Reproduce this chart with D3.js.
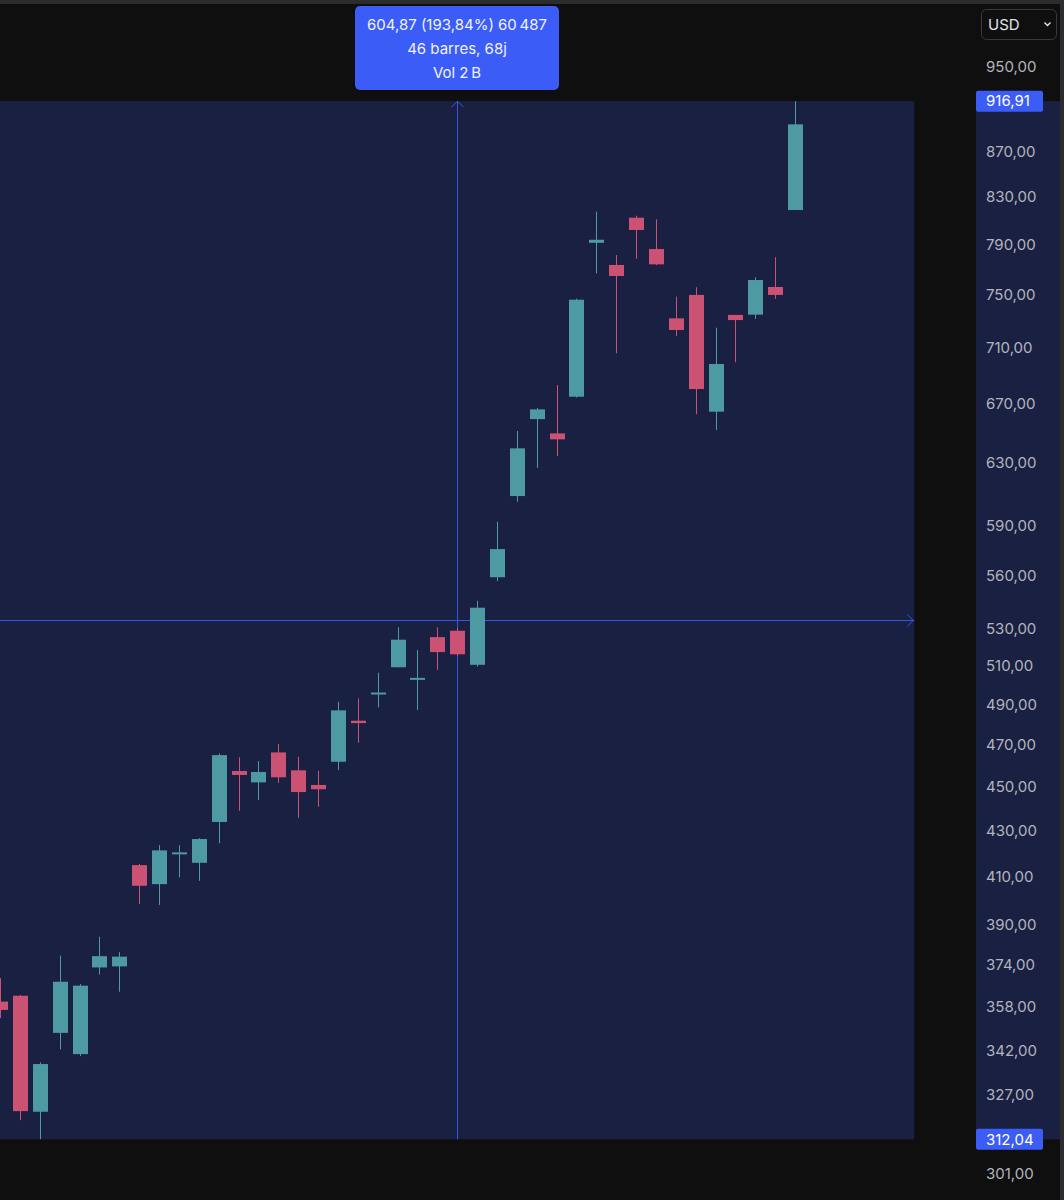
<!DOCTYPE html>
<html><head><meta charset="utf-8">
<script src="https://cdn.jsdelivr.net/npm/d3@7/dist/d3.min.js"></script>
<style>html,body{margin:0;padding:0;background:#0f0f0f;overflow:hidden}svg{display:block}</style>
</head><body>
<svg id="c" width="1064" height="1200"></svg>
<script>
// ---- data ----
const bars  = [0,1,2,3,4,5,6,7,8,9,10,11,12,13,14,15,16,17,18,19,20,21,22,23,24,25,26,27,28,29,30,31,32,33,34,35,36,37,38,39,40];
const open  = [360.0,362.2,321.1,348.5,340.9,373.0,373.4,414.8,406.7,419.6,415.8,433.8,457.4,452.0,466.3,457.7,450.8,461.8,481.9,495.2,509.4,502.9,525.6,529.1,510.7,559.3,608.5,659.1,649.4,674.6,791.5,773.5,812.4,786.4,731.8,749.8,664.2,734.4,734.6,756.0,818.9];
const high  = [368.9,362.5,338.0,377.6,366.6,385.1,379.0,415.3,423.5,423.5,426.6,465.8,463.9,462.1,470.4,464.2,457.5,491.5,493.2,506.5,531.0,518.6,531.0,530.6,545.8,592.5,651.0,666.7,682.8,746.9,817.5,781.5,814.1,811.0,748.5,755.8,724.7,734.4,763.7,779.7,916.91];
const low   = [353.9,318.3,312.04,342.6,340.2,370.3,363.7,398.4,398.0,409.6,408.1,424.3,438.9,443.8,451.8,435.7,440.7,457.8,471.0,488.6,509.4,487.3,507.9,515.4,509.7,557.1,604.9,626.6,634.3,674.0,766.8,705.7,778.5,773.5,718.5,662.4,651.7,699.1,731.3,746.7,818.9];
const close = [356.9,321.3,337.4,367.5,366.0,377.4,377.2,406.0,421.2,420.2,426.2,465.0,455.5,456.9,454.4,447.5,448.8,487.1,480.7,496.2,524.2,503.7,517.5,516.3,541.9,575.9,639.4,665.8,645.4,746.1,794.0,764.7,802.1,774.0,723.0,680.0,697.9,730.5,761.5,749.8,895.1];
const priceTicks = [950,870,830,790,750,710,670,630,590,560,530,510,490,470,450,430,410,390,374,358,342,327,301];
const rangePrices = [916.91, 312.04];   // measured range high / low
const rangeBars = [0, 46];              // measured range start / end bar
const rangeLabel = ["604,87 (193,84%) 60\u202F487", "46 barres, 68j", "Vol 2\u202FB"];
const currency = "USD";

// ---- styles ----
const BG = "#0f0f0f", NAVY = "#1a2041", BLUE = "#3b5cf6", LINE = "#3157e6";
const UP = "#4d9aa3", DOWN = "#cb5272", TXT = "#b2b5be";
const FONT = "Inter, 'Noto Sans', sans-serif";

const svg = d3.select("#c");
const x = d3.scaleLinear().domain([0, 40]).range([0, 795]);
const y = d3.scaleLog().domain([301, 950]).range([1174, 67]);
const fmt = v => d3.format(".2f")(v).replace(".", ",");

svg.append("rect").attr("width",1064).attr("height",1200).attr("fill",BG);
svg.append("rect").attr("width",1064).attr("height",4).attr("fill","#2c2c2e");
svg.append("rect").attr("x",1060).attr("width",4).attr("height",1200).attr("fill","#2c2c2e");

const yTop = y(rangePrices[0]), yBot = y(rangePrices[1]);
// range rectangle on chart
svg.append("rect").attr("x",x(rangeBars[0])).attr("y",yTop)
  .attr("width",x(rangeBars[1])-x(rangeBars[0])).attr("height",yBot-yTop).attr("fill",NAVY);
// range band on price axis
svg.append("rect").attr("x",976).attr("y",yTop).attr("width",84).attr("height",yBot-yTop).attr("fill",NAVY);

// measurement lines
const xMid = Math.round(x((rangeBars[0]+rangeBars[1])/2)) + 0.5;
const yMid = Math.round((yTop+yBot)/2) + 0.5;
const lg = svg.append("g").attr("stroke",LINE).attr("stroke-width",1).attr("fill","none");
lg.append("line").attr("x1",xMid).attr("x2",xMid).attr("y1",yTop).attr("y2",yBot);
lg.append("line").attr("x1",x(rangeBars[0])).attr("x2",x(rangeBars[1])).attr("y1",yMid).attr("y2",yMid);
lg.append("path").attr("d",`M${xMid-6},${yTop+6}L${xMid},${yTop}L${xMid+6},${yTop+6}`);
const xe = x(rangeBars[1]) - 1;
lg.append("path").attr("d",`M${xe-6},${yMid-6}L${xe},${yMid}L${xe-6},${yMid+6}`);

// candles
const data = bars.map((b,i)=>({b, o:open[i], h:high[i], l:low[i], c:close[i]}));
const cg = svg.append("g");
const bw = 15;
cg.selectAll("line.w").data(data).join("line").attr("class","w")
  .attr("x1",d=>Math.round(x(d.b))+0.5).attr("x2",d=>Math.round(x(d.b))+0.5)
  .attr("y1",d=>y(d.h)).attr("y2",d=>y(d.l))
  .attr("stroke",d=>d.c>=d.o?UP:DOWN).attr("stroke-width",1);
cg.selectAll("rect.b").data(data).join("rect").attr("class","b")
  .attr("x",d=>Math.round(x(d.b))-7).attr("width",bw)
  .attr("y",d=>{const t=y(Math.max(d.o,d.c)), bo=y(Math.min(d.o,d.c)); return bo-t<2?(t+bo)/2-1:t;})
  .attr("height",d=>Math.max(2, y(Math.min(d.o,d.c))-y(Math.max(d.o,d.c))))
  .attr("fill",d=>d.c>=d.o?UP:DOWN);

// price axis
const ax = svg.append("g").attr("transform","translate(976,0)")
  .call(d3.axisRight(y).tickValues(priceTicks).tickSize(0).tickPadding(10).tickFormat(fmt));
ax.select(".domain").remove();
ax.selectAll("text").attr("fill",TXT).style("font-family",FONT).style("font-size","15px");

// range price labels
rangePrices.forEach(p=>{
  const g = svg.append("g");
  g.append("rect").attr("x",976).attr("y",y(p)-10.5).attr("width",67).attr("height",21).attr("rx",2).attr("fill",BLUE);
  g.append("text").attr("x",986).attr("y",y(p)).attr("dy","0.35em").text(fmt(p))
    .attr("fill","#ffffff").style("font-family",FONT).style("font-size","15px");
});

// tooltip box
svg.append("rect").attr("x",355).attr("y",6).attr("width",204).attr("height",84).attr("rx",5).attr("fill",BLUE);
rangeLabel.forEach((t,i)=>{
  svg.append("text").attr("x",457).attr("y",29.5+i*24.3).attr("text-anchor","middle").text(t)
    .attr("fill","#f0f3fa").style("font-family",FONT).style("font-size","15px");
});

// currency button
svg.append("rect").attr("x",981.5).attr("y",9.5).attr("width",75).attr("height",30).attr("rx",5)
  .attr("fill",BG).attr("stroke","#3a3a3c");
svg.append("text").attr("x",988).attr("y",29.5).text(currency)
  .attr("fill","#e0e3eb").style("font-family",FONT).style("font-size","15px");
svg.append("path").attr("d","M1044.5,22.5L1047.5,25.5L1050.5,22.5").attr("stroke","#e0e3eb")
  .attr("stroke-width",1.4).attr("fill","none");
</script>
</body></html>
